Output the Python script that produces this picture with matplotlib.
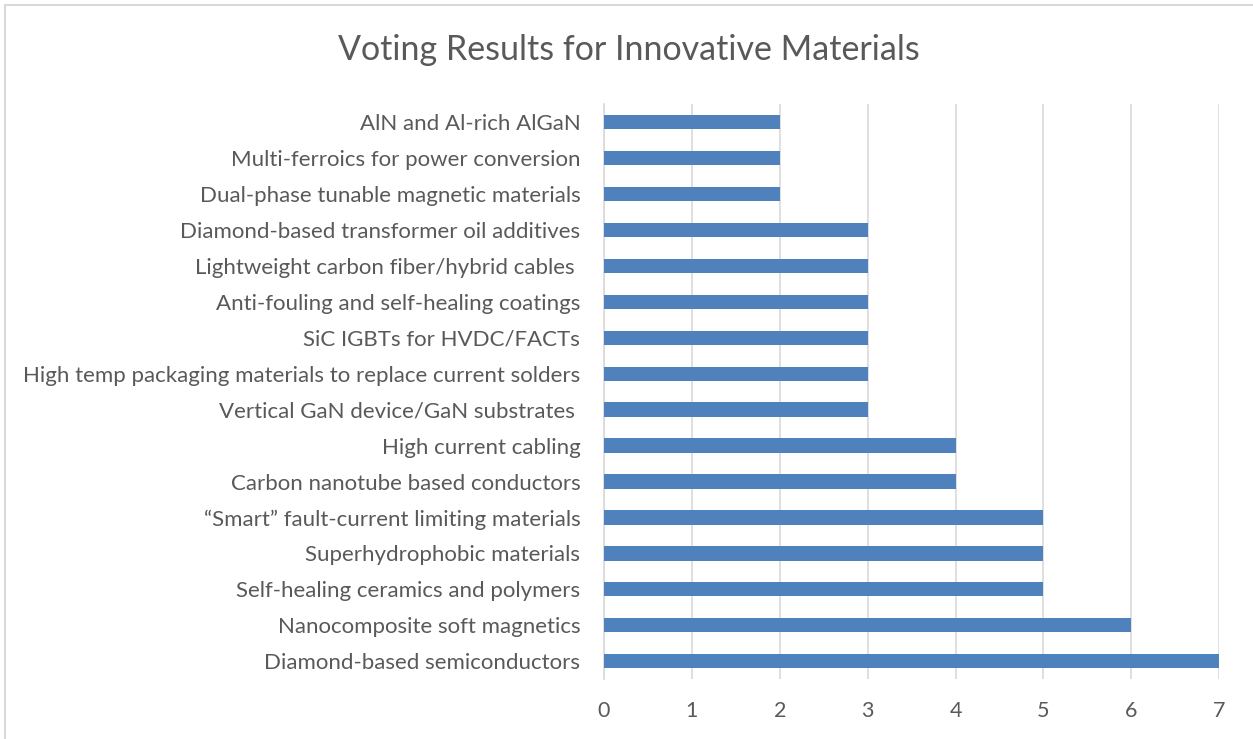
#!/usr/bin/env python
# -*- coding: utf-8 -*-
"""
Horizontal bar chart of voting results for innovative materials.
"""

import matplotlib
matplotlib.use('Agg')
import matplotlib.pyplot as plt
from matplotlib.patches import Rectangle

# Categories listed bottom to top
materials = [
    'Diamond-based semiconductors',
    'Nanocomposite soft magnetics',
    'Self-healing ceramics and polymers',
    'Superhydrophobic materials',
    '\u201cSmart\u201d fault-current limiting materials',
    'Carbon nanotube based conductors',
    'High current cabling',
    'Vertical GaN device/GaN substrates ',
    'High temp packaging materials to replace current solders',
    'SiC IGBTs for HVDC/FACTs',
    'Anti-fouling and self-healing coatings',
    'Lightweight carbon fiber/hybrid cables ',
    'Diamond-based transformer oil additives',
    'Dual-phase tunable magnetic materials',
    'Multi-ferroics for power conversion',
    'AlN and Al-rich AlGaN',
]
votes = [7, 6, 5, 5, 5, 4, 4, 3, 3, 3, 3, 3, 3, 2, 2, 2]
x_ticks = [0, 1, 2, 3, 4, 5, 6, 7]

TEXT_COLOR = '#595959'
BAR_COLOR = '#4F81BD'
GRID_COLOR = '#D9D9D9'

plt.rcParams['font.family'] = ['Lato', 'DejaVu Sans']

fig = plt.figure(figsize=(12.53, 7.39), dpi=100)
ax = fig.add_axes([0.482, 0.081, 0.491, 0.778])

ax.barh(range(len(materials)), votes, height=0.4, color=BAR_COLOR, zorder=3)

ax.set_xlim(0, 7)
ax.set_ylim(-0.5, len(materials) - 0.5)
ax.set_xticks(x_ticks)
ax.set_yticks(range(len(materials)))
ax.set_yticklabels(materials)
ax.tick_params(axis='both', length=0, colors=TEXT_COLOR)
ax.tick_params(axis='y', labelsize=16, pad=17)
ax.tick_params(axis='x', labelsize=15.5, pad=16)

ax.grid(axis='x', color=GRID_COLOR, linewidth=1.2, zorder=0)
for side in ['top', 'right', 'bottom']:
    ax.spines[side].set_visible(False)
ax.spines['left'].set_color(GRID_COLOR)
ax.spines['left'].set_linewidth(1.2)

fig.text(0.502, 0.932, 'Voting Results for Innovative Materials',
         ha='center', va='center', fontsize=24.5, color=TEXT_COLOR)

# chart area border (cropped on right and bottom)
fig.patches.append(Rectangle((0.004, -0.05), 1.2, 0.043 + 0.95 + 0.05,
                             transform=fig.transFigure, fill=False,
                             edgecolor=GRID_COLOR, linewidth=1.5))

fig.savefig('out.png', dpi=100)
plt.close(fig)
